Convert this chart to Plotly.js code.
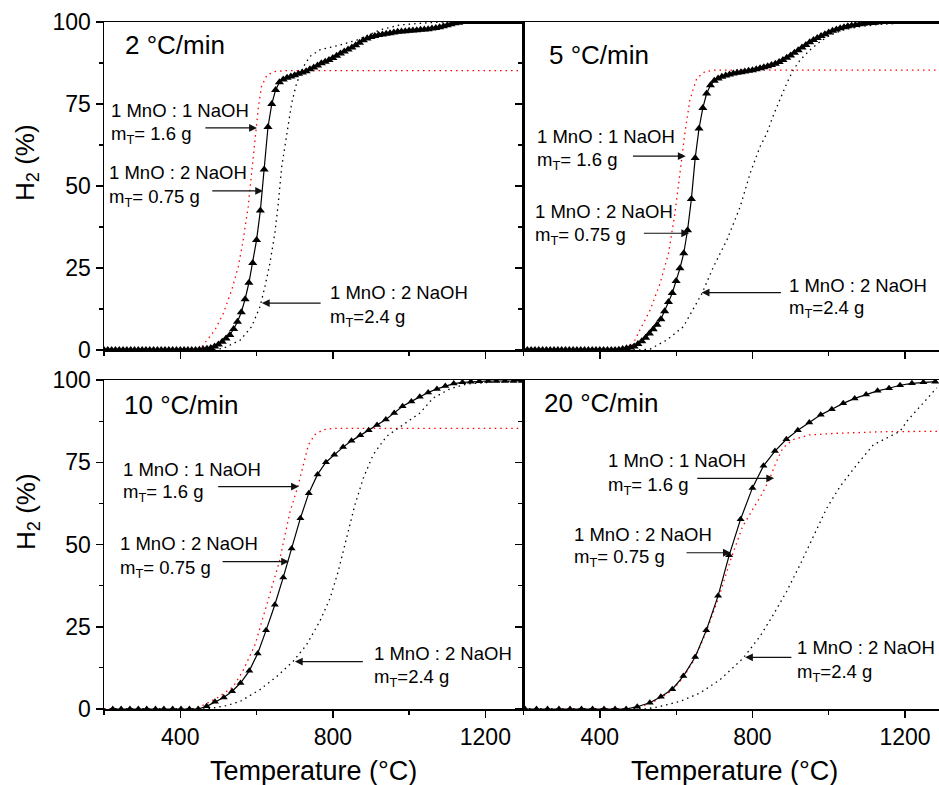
<!DOCTYPE html>
<html><head><meta charset="utf-8">
<script src="https://cdn.plot.ly/plotly-3.0.1.min.js"></script>
<style>html,body{margin:0;padding:0;background:#fff}#chart{width:939px;height:785px}</style>
</head><body><div id="chart"></div>
<script>
// ---------------- DATA ----------------
const rateLabels = ['2 °C/min', '5 °C/min', '10 °C/min', '20 °C/min'];
const seriesLabels = ['1 MnO : 1 NaOH', 'm<sub>T</sub>= 1.6 g', '1 MnO : 2 NaOH', 'm<sub>T</sub>= 0.75 g', '1 MnO : 2 NaOH', 'm<sub>T</sub>=2.4 g'];
const xTickVals = [400, 800, 1200];
const yTickVals = [0, 25, 50, 75, 100];

// dense sampling (2 and 5 °C/min), temperature in °C
const tDense = [200,210,220,230,240,250,260,270,280,290,300,310,320,330,340,350,360,370,380,390,400,410,420,430,440,
450,460,470,480,490,500,510,520,530,540,550,560,570,580,590,600,610,620,630,640,650,660,670,680,690,700,710,720,730,740,
750,760,770,780,790,800,810,820,830,840,850,860,870,880,890,900,910,920,930,940,950,960,970,980,990,1000,1010,1020,1030,1040,
1050,1060,1070,1080,1090,1100,1110,1120,1130,1140,1150,1160,1170,1180,1190,1200,1210,1220,1230,1240,1250,1260,1270,1280,1290,1300];

// 2 °C/min, 1 MnO : 2 NaOH, mT = 0.75 g (H2 %)
const h2_2_075 = [0,0,0,0,0,0,0,0,0,0,0,0,0,0,0,0,0,0,0,0,0,0,0,0,0,
0.1,0.2,0.4,0.6,1.1,1.7,2.5,3.5,4.6,6.4,8.6,11.5,15.5,20.5,26.5,33.5,42.5,55,68,75,79.3,81.6,82.5,83.0,83.4,83.8,84.2,84.6,85.0,85.6,
86.1,86.7,87.4,87.9,88.4,89.0,89.7,90.4,91.0,91.6,92.2,92.9,93.7,94.4,95.0,95.4,95.7,96.0,96.2,96.4,96.6,96.8,97.0,97.1,97.2,97.3,97.4,97.5,97.6,97.7,
97.8,98.0,98.2,98.4,98.7,99.0,99.3,99.6,99.8,100,100,100,100,100,100,100,100,100,100,100,100,100,100,100,100,100];
// 2 °C/min, 1 MnO : 1 NaOH, mT = 1.6 g
const t2_16 = [200,440,452,460,491,513,535,552,565,578,587,596,605,613,627,648,680,1300];
const h2_2_16 = [0,0,0.5,1.5,6.1,11.2,18.3,25.4,33.5,43.7,53.9,64.0,74.2,80.3,83.8,84.9,85.2,85.2];
// 2 °C/min, 1 MnO : 2 NaOH, mT = 2.4 g
const t2_24 = [200,480,513,557,587,609,622,635,648,657,666,679,692,705,723,740,766,819,863,924,976,1029,1080,1300];
const h2_2_24 = [0,0,0.5,3.0,7.1,13.2,19.3,26.4,35.6,44.7,55.9,66.1,75.2,81.3,86.4,89.5,91.5,93.0,94.5,97.6,99.1,99.6,100,100];

// 5 °C/min, 1 MnO : 2 NaOH, mT = 0.75 g
const h2_5_075 = [0,0,0,0,0,0,0,0,0,0,0,0,0,0,0,0,0,0,0,0,0,0,0,0,0,
0.1,0.3,0.5,0.8,1.1,1.8,2.7,3.7,5.0,6.3,7.7,9.4,11.8,14.6,17.4,21.0,24.9,29.5,36.5,46.0,58.5,67.5,73.8,78.2,80.7,82.1,82.8,83.3,83.7,84.0,
84.3,84.5,84.7,84.9,85.1,85.3,85.6,85.9,86.2,86.5,86.9,87.3,87.8,88.4,89.1,89.8,90.6,91.4,92.2,93.0,93.8,94.5,95.1,95.7,96.3,96.8,97.3,97.7,98.1,98.4,
98.7,98.9,99.1,99.3,99.5,99.6,99.7,99.8,99.9,100,100,100,100,100,100,100,100,100,100,100,100,100,100,100,100,100];
// 5 °C/min, 1 MnO : 1 NaOH, mT = 1.6 g
const t5_16 = [200,460,479,490,505,532,558,580,597,610,623,636,654,676,700,1300];
const h2_5_16 = [0,0,0.5,2.5,6.1,12.2,20.3,29.5,41.7,53.9,66.1,76.2,82.8,84.9,85.3,85.3];
// 5 °C/min, 1 MnO : 2 NaOH, mT = 2.4 g
const t5_24 = [200,500,532,575,619,668,698,733,768,794,820,838,855,873,890,907,925,951,977,1004,1039,1082,1135,1187,1300];
const h2_5_24 = [0,0,0.3,3.0,7.1,17.3,25.4,33.5,43.7,53.9,62.0,66.1,71.6,76.7,81.3,85.4,88.4,91.5,94.0,96.0,97.6,98.6,99.3,99.6,100];

// 10 °C/min, 1 MnO : 2 NaOH, mT = 0.75 g
const t10_075 = [223,245,268,290,312,335,357,380,402,424,447,469,491,514,536,558,581,603,625,648,670,692,715,737,760,782,804,827,849,872,
894,916,939,961,983,1006,1028,1050,1073,1095,1117,1140,1162,1184,1207,1229,1251,1274,1296];
const h2_10_075 = [0,0,0,0,0,0,0,0,0,0,0,0.8,2.2,3.5,5.4,7.9,11.6,16.9,23.9,31.7,40.0,48.8,58.0,65.6,71.3,75.0,77.3,79.6,81.5,83.2,
84.7,86.3,88.0,90.0,92.0,93.5,94.9,96.2,97.3,98.2,98.9,99.3,99.5,99.6,99.7,99.7,99.7,99.7,99.7];
// 10 °C/min, 1 MnO : 1 NaOH, mT = 1.6 g
const t10_16 = [200,430,452,495,539,564,596,622,660,688,708,723,736,753,775,800,1300];
const h2_10_16 = [0,0,0.7,3.2,6.8,11.5,19.5,29.7,44.9,60.1,67.5,74.3,80.3,83.4,84.9,85.3,85.3];
// 10 °C/min, 1 MnO : 2 NaOH, mT = 2.4 g
const t10_24 = [200,470,520,557,609,653,696,731,766,793,814,836,858,880,906,941,985,1029,1063,1107,1151,1238,1300];
const h2_10_24 = [0,0,1.0,2.3,5.9,9.9,14.5,19.5,26.7,33.7,41.8,52.0,62.1,70.2,77.3,82.9,86.4,90.0,94.5,97.3,98.8,99.5,99.6];

// 20 °C/min, 1 MnO : 2 NaOH, mT = 0.75 g
const t20_075 = [204,234,263,293,322,352,381,411,440,469,498,531,560,590,619,650,679,710,739,769,800,829,859,889,919,949,979,1008,
1038,1068,1098,1128,1158,1187,1218,1248,1279];
const h2_20_075 = [0,0,0,0,0,0,0,0,0,0,0.7,1.9,3.7,6.0,10.0,15.8,23.9,34.4,46.7,57.7,67.2,73.9,78.4,82.0,84.7,87.1,89.4,91.1,
92.9,94.4,95.6,96.7,97.5,98.4,99.0,99.3,99.5];
// 20 °C/min, 1 MnO : 1 NaOH, mT = 1.6 g
const t20_16 = [200,470,500,531,560,590,619,650,679,712,743,774,800,826,844,861,879,905,949,1019,1150,1289];
const h2_20_16 = [0,0,0.5,1.6,3.4,5.7,9.6,15.5,23.5,34.0,45.4,55.4,60.5,65.6,69.6,74.7,79.2,81.8,83.3,83.8,84.3,84.4];
// 20 °C/min, 1 MnO : 2 NaOH, mT = 2.4 g
const t20_24 = [200,520,555,610,663,715,776,820,855,890,925,960,995,1030,1074,1117,1161,1187,1205,1248,1283];
const h2_20_24 = [0,0,0.7,2.3,4.9,8.9,15.5,22.1,28.7,35.8,43.9,52.5,61.1,67.7,74.3,80.3,83.0,84.4,87.5,93.0,97.6];

// ---------------- STYLE / LAYOUT ----------------
const FONT = 'Liberation Sans, Arial, sans-serif';
const W = 939, H = 785;
const px = v => v / W, py = v => 1 - v / H;

const panels = [
  {xa:'x',  ya:'y',  title:[250,93.0],
   lines:[[214,72.9],[214,65.5],[208,54.0],[208,46.3],[788,17.4],[788,9.8]],
   arrows:[[462,601,67.7],[480,617,48.5],[772,614,14.3]],
   sol:[tDense,h2_2_075], red:[t2_16,h2_2_16], dot:[t2_24,h2_2_24], msize:8},
  {xa:'x2', ya:'y2', title:[261,89.9],
   lines:[[230,65.2],[230,57.7],[225.5,42.2],[225.5,34.8],[890,19.8],[890,12.4]],
   arrows:[[483,625,59.1],[511.5,634,35.6],[878.6,667,17.5]],
   sol:[tDense,h2_5_075], red:[t5_16,h2_5_16], dot:[t5_24,h2_5_24], msize:8},
  {xa:'x3', ya:'y3', title:[246,92.4],
   lines:[[244,72.9],[244,65.6],[238,50.2],[238,42.6],[901.5,16.9],[901.5,9.3]],
   arrows:[[495.5,711,67.6],[507,685,44.8],[882.6,700.6,14.4]],
   sol:[t10_075,h2_10_075], red:[t10_16,h2_10_16], dot:[t10_24,h2_10_24], msize:7},
  {xa:'x4', ya:'y4', title:[247.7,92.9],
   lines:[[415,75.4],[415,67.9],[326,53.1],[326,45.8],[911,18.8],[911,11.0]],
   arrows:[[651.5,856.8,70.1],[623.4,743.3,47.5],[906,780.8,15.7]],
   sol:[t20_075,h2_20_075], red:[t20_16,h2_20_16], dot:[t20_24,h2_20_24], msize:7}
];

const traces = [];
const annotations = [];
panels.forEach((p, i) => {
  traces.push({x:p.red[0], y:p.red[1], xaxis:p.xa, yaxis:p.ya, mode:'lines',
    line:{color:'#ff0000', width:1.3, dash:'1.5px,4px'}, hoverinfo:'skip'});
  traces.push({x:p.dot[0], y:p.dot[1], xaxis:p.xa, yaxis:p.ya, mode:'lines',
    line:{color:'#000', width:1.3, dash:'1.5px,4px'}, hoverinfo:'skip'});
  traces.push({x:p.sol[0], y:p.sol[1], xaxis:p.xa, yaxis:p.ya, mode:'lines+markers',
    line:{color:'#000', width:1.2}, marker:{symbol:'triangle-up', size:p.msize, color:'#000'}, hoverinfo:'skip'});
  annotations.push({xref:p.xa, yref:p.ya, x:p.title[0], y:p.title[1], text:rateLabels[i],
    showarrow:false, xanchor:'left', yanchor:'middle', font:{family:FONT, size:26, color:'#000'}});
  p.lines.forEach((l, j) => annotations.push({xref:p.xa, yref:p.ya, x:l[0], y:l[1], text:seriesLabels[j],
    showarrow:false, xanchor:'left', yanchor:'middle', font:{family:FONT, size:18.5, color:'#000'}}));
  p.arrows.forEach(a => annotations.push({xref:p.xa, yref:p.ya, axref:p.xa, ayref:p.ya,
    x:a[1], y:a[2], ax:a[0], ay:a[2], text:'', showarrow:true, arrowhead:2, arrowsize:1.3, arrowwidth:1.2,
    arrowcolor:'#111', standoff:0, startstandoff:0}));
});

// axis titles
[[27,163],[27,512]].forEach(c => annotations.push({xref:'paper', yref:'paper', x:px(c[0]), y:py(c[1]),
  text:'H<sub>2</sub> (%)', textangle:-90, showarrow:false, xanchor:'center', yanchor:'middle',
  font:{family:FONT, size:26, color:'#000'}}));
[[313.7,771],[734.8,771]].forEach(c => annotations.push({xref:'paper', yref:'paper', x:px(c[0]), y:py(c[1]),
  text:'Temperature (°C)', showarrow:false, xanchor:'center', yanchor:'middle',
  font:{family:FONT, size:27, color:'#000'}}));

const xL = [px(104), px(523.5)], xR = [px(523.5), 1];
const yT = [py(350), py(22)], yB = [py(709), py(380)];

function xaxis(domain, range, anchor, labels) {
  return {domain, range, anchor, showline:true, linecolor:'#000', linewidth:1.5, mirror:true,
    ticks:'outside', ticklen:7, tickwidth:1.5, tickcolor:'#000', tickvals:xTickVals,
    showticklabels:labels, tickfont:{family:FONT, size:23, color:'#000'},
    minor:{ticks:'outside', ticklen:4, tickwidth:1.2, tickcolor:'#000', dtick:200, tick0:0},
    showgrid:false, zeroline:false, fixedrange:true};
}
function yaxis(domain, anchor, labels, mirror) {
  return {domain, range:[0,100], anchor, showline:true, linecolor:'#000', linewidth:1.5, mirror,
    ticks:'outside', ticklen:7, tickwidth:1.5, tickcolor:'#000', tickvals:yTickVals,
    showticklabels:labels, tickfont:{family:FONT, size:23, color:'#000'},
    minor:{ticks:'outside', ticklen:4, tickwidth:1.2, tickcolor:'#000', dtick:12.5, tick0:0},
    showgrid:false, zeroline:false, fixedrange:true};
}

const layout = {
  width:W, height:H, margin:{l:0, r:0, t:0, b:0}, paper_bgcolor:'#fff', plot_bgcolor:'#fff',
  showlegend:false, font:{family:FONT, color:'#000'},
  xaxis: xaxis(xL, [200,1300], 'y', false),
  yaxis: yaxis(yT, 'x', true, true),
  xaxis2: xaxis(xR, [200,1289], 'y2', false),
  yaxis2: yaxis(yT, 'x2', false, false),
  xaxis3: xaxis(xL, [200,1300], 'y3', true),
  yaxis3: yaxis(yB, 'x3', true, true),
  xaxis4: xaxis(xR, [200,1289], 'y4', true),
  yaxis4: yaxis(yB, 'x4', false, false),
  annotations
};

Plotly.newPlot('chart', traces, layout, {displayModeBar:false, staticPlot:true});
</script></body></html>
